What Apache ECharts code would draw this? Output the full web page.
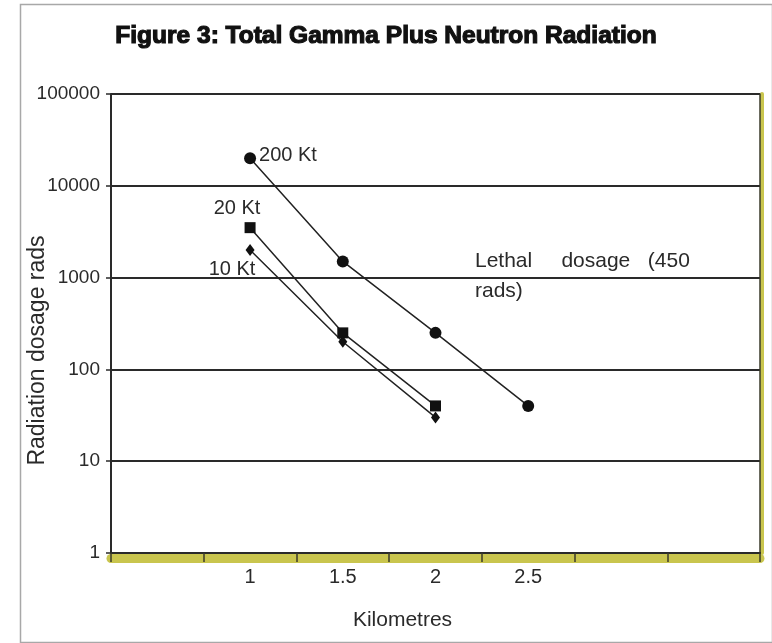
<!DOCTYPE html>
<html>
<head>
<meta charset="utf-8">
<script src="https://cdn.jsdelivr.net/npm/echarts@6/dist/echarts.min.js"></script>
<style>
html,body{margin:0;padding:0;background:#fff;}
#chart{width:772px;height:643px;}
</style>
</head>
<body>
<div id="chart"></div>
<script>
// Categories along the x axis (kilometres) and their displayed tick labels
const categories = ['0.5', '1', '1.5', '2', '2.5', '3', '3.5'];
const tickLabels = ['', '1', '1.5', '2', '2.5', '', ''];
// Radiation dosage (rads)
const kt200 = [null, 20000, 1500, 250, 40, null, null];
const kt20  = [null, 3500, 250, 40, null, null, null];
const kt10  = [null, 2000, 200, 30, null, null, null];
const seriesNames = ['200 Kt', '20 Kt', '10 Kt'];

const FONT = 'Liberation Sans, Arial, sans-serif';
const TXT = '#2a2a2a';
const OLIVE = '#c9c54e';

function withLabel(arr, idx, label) {
  return arr.map((v, i) => i === idx ? { value: v, label: label } : v);
}

const chart = echarts.init(document.getElementById('chart'), null, { renderer: 'canvas' });
chart.setOption({
  backgroundColor: '#ffffff',
  animation: false,
  title: {
    text: 'Figure 3: Total Gamma Plus Neutron Radiation',
    left: 'center',
    top: 19,
    textStyle: {
      fontFamily: FONT, fontSize: 24.5, fontWeight: 'bold', color: '#111',
      textBorderColor: '#111', textBorderWidth: 1.2
    }
  },
  graphic: [
    { type: 'rect', left: 18, top: 2, shape: { width: 752, height: 638 },
      style: { fill: 'none', stroke: '#a8a8a8', lineWidth: 1.5 }, silent: true },
    { type: 'text', left: 475, top: 251, style: { text: 'Lethal     dosage   (450', font: '21px ' + FONT, fill: TXT } },
    { type: 'text', left: 475, top: 281, style: { text: 'rads)', font: '21px ' + FONT, fill: TXT } }
  ],
  grid: { left: 111, right: 12, top: 94, bottom: 90, show: false, outerBoundsMode: 'none', containLabel: false },
  xAxis: [
    {
      type: 'category', data: categories, boundaryGap: true, position: 'bottom', z: 3,
      name: 'Kilometres', nameLocation: 'middle', nameGap: 57, nameMoveOverlap: false,
      nameTextStyle: { fontFamily: FONT, fontSize: 21, color: TXT, padding: [0, 66, 0, 0] },
      axisLine: { show: true, lineStyle: { color: '#2a2a2a', width: 2 } },
      axisTick: { show: true, length: 9, lineStyle: { color: '#3a3a2a', width: 1.5 } },
      axisLabel: { fontFamily: FONT, fontSize: 20, color: TXT, margin: 14, formatter: (v, i) => tickLabels[i] },
      splitLine: { show: false }
    },
    {
      type: 'category', data: categories, boundaryGap: true, position: 'bottom', offset: 5, z: 1,
      axisLine: { show: true, lineStyle: { color: OLIVE, width: 9 } },
      axisTick: { show: false }, axisLabel: { show: false }, splitLine: { show: false }
    }
  ],
  yAxis: [
    {
      type: 'log', logBase: 10, min: 1, max: 100000,
      name: 'Radiation dosage rads', nameLocation: 'middle', nameGap: 62, nameMoveOverlap: false,
      nameTextStyle: { fontFamily: FONT, fontSize: 23, color: TXT, padding: [0, 54, 0, 0] },
      axisLine: { show: true, lineStyle: { color: '#2a2a2a', width: 2 } },
      axisTick: { show: true, length: 5, lineStyle: { color: '#2a2a2a', width: 1.5 } },
      axisLabel: { fontFamily: FONT, fontSize: 19, color: TXT, margin: 11, formatter: v => String(Math.round(v)) },
      splitLine: { show: true, lineStyle: { color: '#2a2a2a', width: 2 } },
      minorTick: { show: false }, minorSplitLine: { show: false }
    },
    {
      type: 'log', logBase: 10, min: 1, max: 100000, position: 'right', offset: 1.5,
      axisLine: { show: true, lineStyle: { color: OLIVE, width: 4 } },
      axisTick: { show: false }, axisLabel: { show: false }, splitLine: { show: false }
    },
    {
      type: 'log', logBase: 10, min: 1, max: 100000, position: 'right',
      axisLine: { show: true, lineStyle: { color: '#3a3a2a', width: 1.5 } },
      axisTick: { show: false }, axisLabel: { show: false }, splitLine: { show: false }
    }
  ],
  series: [
    {
      name: seriesNames[0], type: 'line',
      data: withLabel(kt200, 1, { show: true, position: 'right', distance: 3, offset: [0, -3], formatter: seriesNames[0],
        fontFamily: FONT, fontSize: 20, color: TXT }),
      symbol: 'circle', symbolSize: 12,
      itemStyle: { color: '#111' }, lineStyle: { color: '#222', width: 1.5 }
    },
    {
      name: seriesNames[1], type: 'line',
      data: withLabel(kt20, 1, { show: true, position: 'top', distance: 4, offset: [-13, 0], formatter: seriesNames[1],
        fontFamily: FONT, fontSize: 20, color: TXT }),
      symbol: 'rect', symbolSize: 11,
      itemStyle: { color: '#111' }, lineStyle: { color: '#222', width: 1.5 }
    },
    {
      name: seriesNames[2], type: 'line',
      data: withLabel(kt10, 1, { show: true, position: 'bottom', distance: 4, offset: [-18, 0], formatter: seriesNames[2],
        fontFamily: FONT, fontSize: 20, color: TXT }),
      symbol: 'diamond', symbolSize: [9, 12],
      itemStyle: { color: '#111' }, lineStyle: { color: '#222', width: 1.5 }
    }
  ]
});
</script>
</body>
</html>
